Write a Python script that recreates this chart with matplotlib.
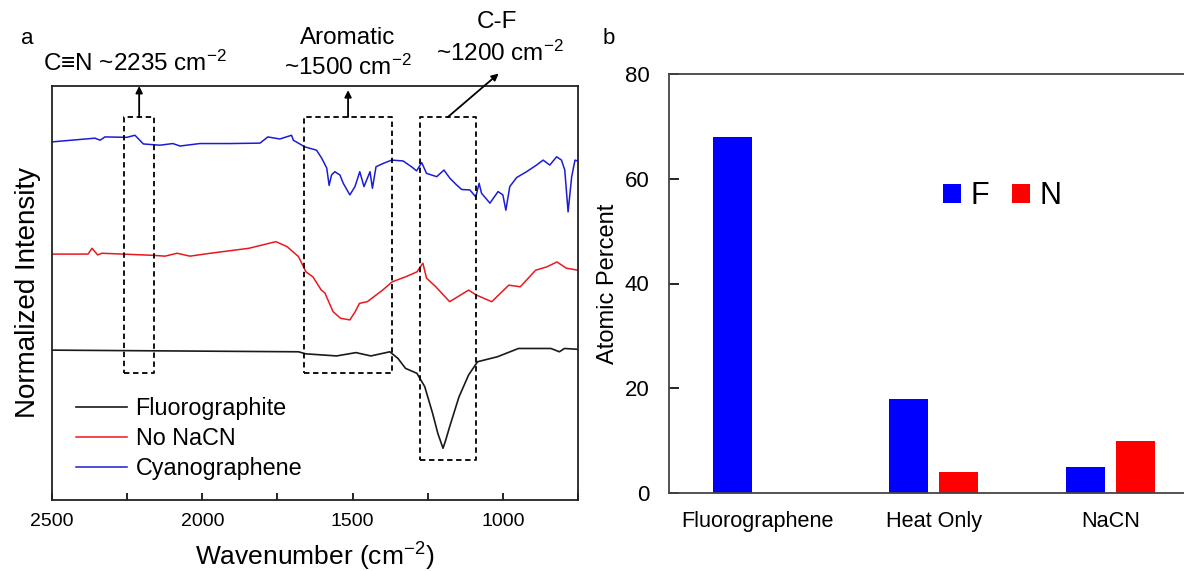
import matplotlib
matplotlib.use("Agg")
import matplotlib.pyplot as plt
from matplotlib.ticker import MultipleLocator, FuncFormatter

plt.rcParams['font.family'] = ['Liberation Sans', 'DejaVu Sans']
plt.rcParams['mathtext.fontset'] = 'custom'
plt.rcParams['mathtext.rm'] = 'Liberation Sans'
plt.rcParams['mathtext.it'] = 'Liberation Sans:italic'
plt.rcParams['mathtext.bf'] = 'Liberation Sans:bold'

# ---------------- Panel a data (FTIR spectra) ----------------
blue_wn = [2500, 2357, 2340, 2324, 2251, 2224, 2196, 2141, 2098, 2074, 2008, 1908, 1808, 1782,
           1742, 1703, 1697, 1659, 1620, 1603, 1586, 1578, 1570, 1559, 1542, 1531, 1509, 1492,
           1476, 1462, 1442, 1434, 1422, 1398, 1370, 1332, 1304, 1287, 1270, 1254, 1220, 1196,
           1176, 1154, 1137, 1110, 1090, 1079, 1071, 1043, 1016, 1000, 990, 977, 954, 921, 888,
           866, 844, 821, 805, 794, 783, 771, 760, 744]
blue_int = [86.5, 87.4, 86.9, 87.7, 87.6, 88.1, 86.0, 85.7, 86.1, 85.5, 86.1, 86.1, 86.2, 87.7,
            87.2, 88.1, 86.9, 85.3, 84.5, 82.6, 80.2, 76.0, 78.5, 79.3, 78.5, 76.5, 73.7, 75.7,
            79.3, 75.7, 79.3, 75.3, 80.5, 81.3, 82.1, 81.9, 80.5, 79.5, 81.5, 78.9, 78.1, 79.7,
            77.7, 76.1, 75.0, 74.9, 73.2, 76.5, 74.1, 71.7, 74.5, 73.7, 70.0, 75.7, 77.9, 79.3, 80.9,
            82.1, 80.9, 82.9, 82.1, 79.7, 69.6, 78.1, 82.1, 81.7]

red_wn = [2500, 2380, 2367, 2348, 2334, 2164, 2124, 2084, 2041, 1973, 1845, 1755, 1718, 1680,
          1655, 1632, 1604, 1592, 1565, 1540, 1509, 1492, 1477, 1451, 1400, 1368, 1324, 1286,
          1266, 1254, 1223, 1177, 1114, 1088, 1037, 980, 942, 891, 854, 820, 789, 750]
red_int = [59.4, 59.4, 60.8, 59.2, 59.6, 59.1, 58.9, 59.6, 58.9, 59.6, 60.8, 62.4, 61.2, 58.8,
           55.1, 53.9, 50.7, 50.0, 45.5, 43.9, 43.5, 45.4, 47.5, 47.9, 50.7, 52.7, 53.9, 55.1,
           57.2, 53.6, 51.5, 47.9, 50.7, 49.5, 47.9, 51.9, 51.5, 55.5, 56.3, 57.5, 56.0, 55.5]

black_wn = [2500, 1680, 1655, 1553, 1489, 1439, 1376, 1349, 1324, 1286, 1260, 1234, 1216, 1199,
            1190, 1177, 1146, 1114, 1084, 1018, 948, 840, 812, 795, 750]
black_int = [36.2, 35.8, 35.3, 34.8, 35.6, 34.8, 35.8, 34.2, 31.8, 30.6, 27.4, 21.0, 16.0, 12.5,
             14.5, 17.7, 24.9, 30.2, 33.4, 34.6, 36.6, 36.6, 35.8, 36.6, 36.4]

series_names = ['Fluorographite', 'No NaCN', 'Cyanographene']

# highlight boxes: (wn_left, wn_right, int_bottom, int_top)
box_wn_left = [2260, 1660, 1275]
box_wn_right = [2160, 1370, 1090]
box_int_bottom = [30.7, 30.7, 9.7]
box_int_top = [92.5, 92.5, 92.5]

# ---------------- Panel b data (atomic percent) ----------------
categories = ['Fluorographene', 'Heat Only', 'NaCN']
F_values = [68, 18, 5]
N_values = [0, 4, 10]

W, H = 1184, 571
fig = plt.figure(figsize=(W / 100, H / 100), dpi=100)


def fx(px):
    return px / W


def fy(py):
    return 1 - py / H


# ---------------- Panel a ----------------
axa = fig.add_axes([fx(52), fy(500), fx(578) - fx(52), fy(86) - fy(500)])
la, = axa.plot(black_wn, black_int, color='#1a1a1a', lw=1.2)
lb, = axa.plot(red_wn, red_int, color='#e8191e', lw=1.1)
lc, = axa.plot(blue_wn, blue_int, color='#1c1cd6', lw=1.1)
axa.set_xlim(2500, 750)
axa.set_ylim(0, 100)
axa.set_yticks([])
axa.xaxis.set_major_locator(MultipleLocator(250))
axa.xaxis.set_major_formatter(FuncFormatter(lambda v, p: f"{int(v)}" if int(round(v)) % 500 == 0 else ""))
axa.tick_params(axis='x', direction='in', length=5, width=1.2, labelsize=14, pad=9, top=False)
for s in axa.spines.values():
    s.set_linewidth(1.3)
    s.set_color('#222222')
axa.set_xlabel('Wavenumber (cm$^{-2}$)', fontsize=19, labelpad=8)
axa.set_ylabel('Normalized Intensity', fontsize=20, labelpad=8)

for x0, x1, y0, y1 in zip(box_wn_left, box_wn_right, box_int_bottom, box_int_top):
    axa.plot([x0, x1, x1, x0, x0], [y0, y0, y1, y1, y0], color='black', lw=1.3,
             ls=(0, (3, 2)), clip_on=False)

arrow_kw = dict(arrowstyle='-|>', color='black', lw=1.3, mutation_scale=10, shrinkA=0, shrinkB=0)
c1 = (box_wn_left[0] + box_wn_right[0]) / 2
c2 = (box_wn_left[1] + box_wn_right[1]) / 2
axa.annotate('', xy=(c1, 100), xytext=(c1, box_int_top[0]), arrowprops=arrow_kw, annotation_clip=False)
axa.annotate('', xy=(c2, 99), xytext=(c2, box_int_top[1]), arrowprops=arrow_kw, annotation_clip=False)
axa.annotate('', xy=(1014, 103), xytext=(1183, box_int_top[2]), arrowprops=arrow_kw, annotation_clip=False)

fs_ann = 17.5
fig.text(fx(135), fy(63), 'C≡N ~2235 cm$^{-2}$', fontsize=fs_ann, ha='center', va='center')
fig.text(fx(348), fy(38), 'Aromatic', fontsize=fs_ann, ha='center', va='center')
fig.text(fx(348), fy(67), '~1500 cm$^{-2}$', fontsize=fs_ann, ha='center', va='center')
fig.text(fx(497), fy(22), 'C-F', fontsize=fs_ann, ha='center', va='center')
fig.text(fx(500), fy(53), '~1200 cm$^{-2}$', fontsize=fs_ann, ha='center', va='center')
fig.text(fx(27), fy(38), 'a', fontsize=16, ha='center', va='center')

axa.legend([la, lb, lc], series_names, loc='upper left', bbox_to_anchor=(fx(76), fy(397)),
           bbox_transform=fig.transFigure, frameon=False, fontsize=16.8, handlelength=2.2,
           handletextpad=0.35, labelspacing=0.3, borderpad=0, borderaxespad=0)

# ---------------- Panel b ----------------
axb = fig.add_axes([fx(669), fy(493), fx(1198.5) - fx(669), fy(74) - fy(493)])
xpos = list(range(len(categories)))
bw = 0.221
off = 0.143
bF = axb.bar([p - off for p in xpos], F_values, width=bw, color='#0000ff', label='F')
bN = axb.bar([p + off for p in xpos], N_values, width=bw, color='#ff0000', label='N')
axb.set_xlim(-0.5, 2.5)
axb.set_ylim(0, 80)
axb.set_yticks([0, 20, 40, 60, 80])
axb.set_xticks(xpos)
axb.set_xticklabels(categories)
axb.tick_params(axis='x', length=0, labelsize=15.6, pad=13)
axb.tick_params(axis='y', direction='in', length=7, width=1.2, labelsize=16, pad=14)
axb.spines['right'].set_visible(False)
for s in ['left', 'top', 'bottom']:
    axb.spines[s].set_linewidth(1.3)
    axb.spines[s].set_color('#444444')
axb.set_ylabel('Atomic Percent', fontsize=17, labelpad=4)
axb.legend(loc='center left', bbox_to_anchor=(fx(943), fy(196)), bbox_transform=fig.transFigure,
           ncol=2, frameon=False, fontsize=22, handlelength=0.6, handleheight=0.6,
           handletextpad=0.3, columnspacing=0.75, borderpad=0, borderaxespad=0)
fig.text(fx(609), fy(38), 'b', fontsize=16, ha='center', va='center')

fig.savefig('out.png', dpi=100)
